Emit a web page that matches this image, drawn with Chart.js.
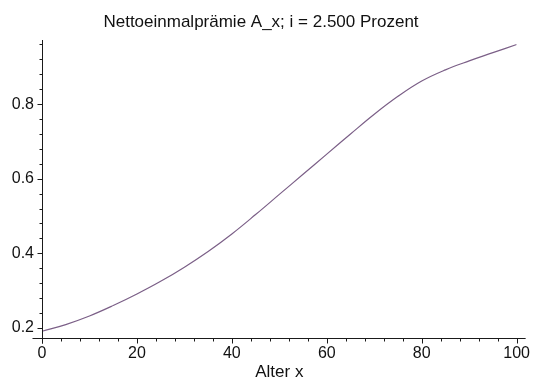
<!DOCTYPE html>
<html>
<head>
<meta charset="utf-8">
<script src="https://cdn.jsdelivr.net/npm/chart.js@4/dist/chart.umd.min.js"></script>
<style>
  html, body { margin: 0; padding: 0; background: #fff; }
  #wrap { width: 536px; height: 383px; }
</style>
</head>
<body>
<div id="wrap"><canvas id="kurve"></canvas></div>
<script>
// Nettoeinmalprämie A_x nach Alter x (i = 2.5 %)
var alter = [0, 5, 10, 15, 20, 25, 30, 35, 40, 45, 50, 55, 60, 65, 70, 75, 80, 85, 90, 95, 100];
var praemie = [0.191, 0.209, 0.232, 0.260, 0.291, 0.325, 0.363, 0.405, 0.452, 0.504, 0.558,
               0.612, 0.666, 0.720, 0.773, 0.821, 0.862, 0.892, 0.916, 0.938, 0.960];

var xTicks = [0, 20, 40, 60, 80, 100];
var yTicks = [0.2, 0.4, 0.6, 0.8];

var schrift = "'Liberation Sans', Arial, sans-serif";

var punkte = alter.map(function (a, i) { return { x: a, y: praemie[i] }; });

// Achsen im Maple-Stil: durchgehende Linien mit kleinen Haupt- und Nebenstrichen
var achsen = {
  id: 'achsen',
  afterDraw: function (chart) {
    var ctx = chart.ctx, ca = chart.chartArea;
    var sx = chart.scales.x, sy = chart.scales.y;
    var x0 = Math.round(sx.getPixelForValue(0)) + 0.5;
    var y0 = Math.round(ca.bottom) + 0.5;
    ctx.save();
    ctx.strokeStyle = '#1a1a1a';
    ctx.lineWidth = 1;
    ctx.beginPath();
    ctx.moveTo(x0, ca.top);
    ctx.lineTo(x0, y0 + 5);
    ctx.moveTo(x0 - 10, y0);
    ctx.lineTo(ca.right + 9, y0);
    for (var v = 0; v <= 100; v += 4) {
      var px = Math.round(sx.getPixelForValue(v)) + 0.5;
      var major = xTicks.indexOf(v) >= 0;
      ctx.moveTo(px, y0);
      ctx.lineTo(px, y0 + (major ? 5 : 3));
    }
    for (var k = 0; k <= 24; k++) {
      var w = 0.2 + k * 0.04;
      if (w > sy.max) break;
      var py = Math.round(sy.getPixelForValue(w)) + 0.5;
      var haupt = k % 5 === 0;
      ctx.moveTo(x0, py);
      ctx.lineTo(x0 - (haupt ? 5 : 3), py);
    }
    ctx.stroke();
    ctx.restore();
  }
};

new Chart(document.getElementById('kurve'), {
  type: 'line',
  data: {
    datasets: [{
      data: punkte,
      borderColor: '#7b5f87',
      borderWidth: 1.2,
      pointRadius: 0,
      tension: 0.4,
      fill: false
    }]
  },
  options: {
    responsive: true,
    maintainAspectRatio: false,
    animation: false,
    layout: { padding: { left: 0, right: 14, top: 0, bottom: 0 } },
    plugins: {
      legend: { display: false },
      tooltip: { enabled: false },
      title: {
        display: true,
        text: 'Nettoeinmalprämie A_x; i = 2.500 Prozent',
        color: '#111',
        font: { family: schrift, size: 17, weight: 'normal' },
        padding: { top: 12, bottom: 7.6 }
      }
    },
    scales: {
      x: {
        type: 'linear',
        min: 0,
        max: 100,
        afterBuildTicks: function (s) { s.ticks = xTicks.map(function (v) { return { value: v }; }); },
        afterFit: function (s) { s.height = 45; },
        grid: { display: false, drawTicks: false },
        border: { display: false },
        ticks: { color: '#111', font: { family: schrift, size: 16 }, padding: 6, maxRotation: 0 },
        title: {
          display: true,
          text: 'Alter x',
          color: '#111',
          font: { family: schrift, size: 17 },
          padding: { top: 0, bottom: 0 }
        }
      },
      y: {
        type: 'linear',
        min: 0.173,
        max: 0.972,
        afterBuildTicks: function (s) { s.ticks = yTicks.map(function (v) { return { value: v }; }); },
        afterFit: function (s) { s.width = 42; },
        grid: { display: false, drawTicks: false },
        border: { display: false },
        ticks: {
          color: '#111',
          font: { family: schrift, size: 16 },
          padding: 8,
          callback: function (v) { return String(v); }
        }
      }
    }
  },
  plugins: [achsen]
});
</script>
</body>
</html>
